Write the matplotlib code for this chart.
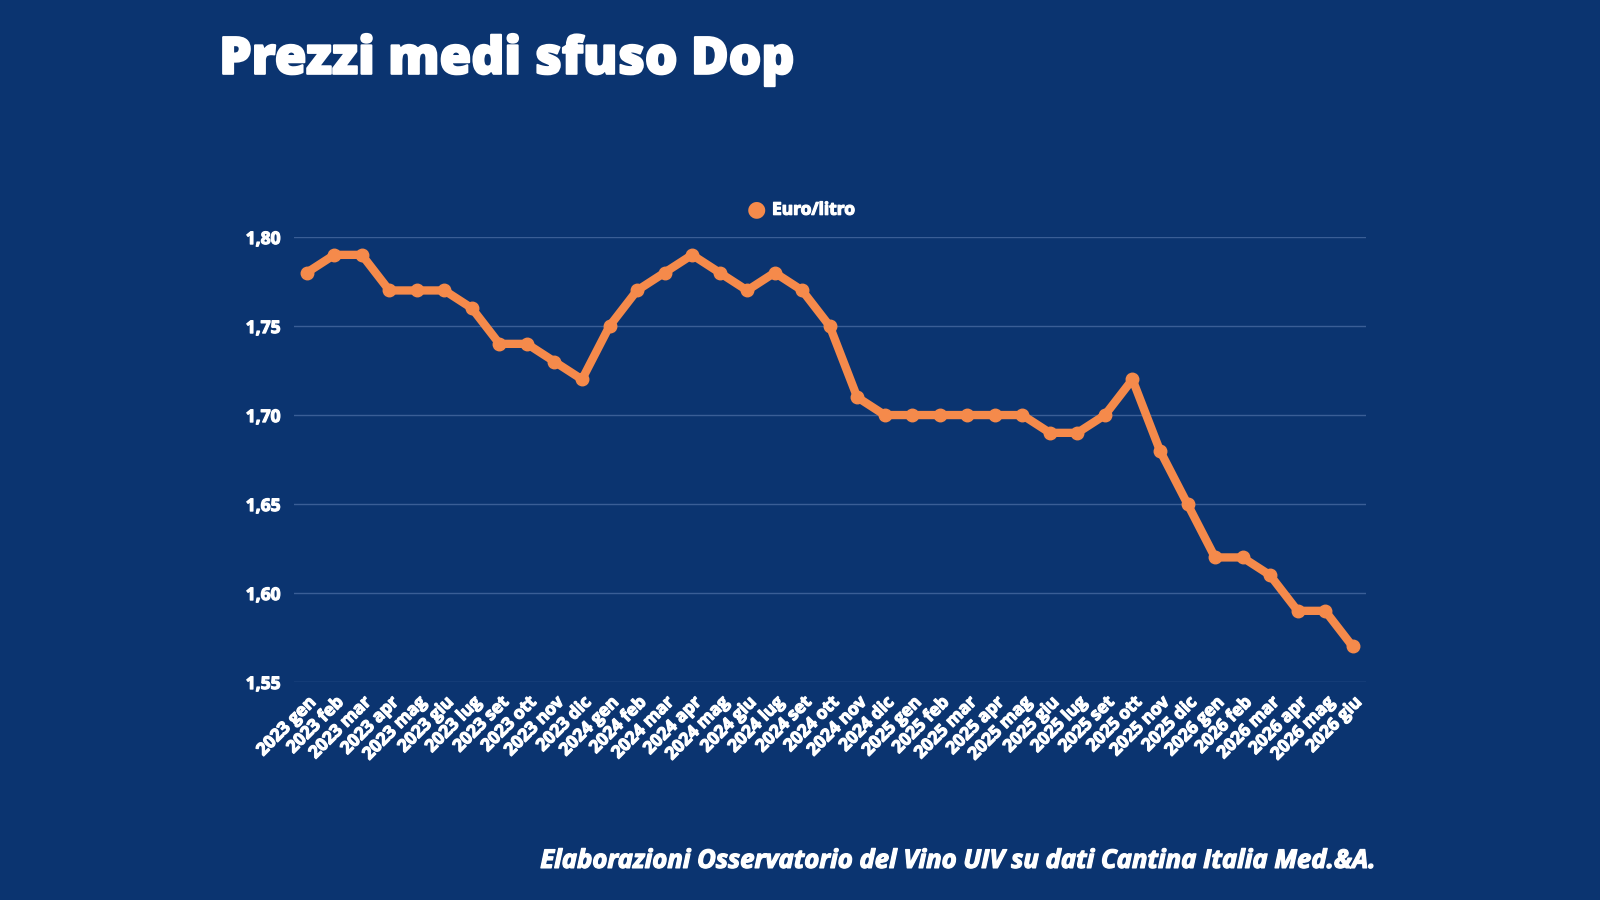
import matplotlib.pyplot as plt
import matplotlib.patheffects as pe
import numpy as np

# dati: prezzi medi sfuso Dop (euro/litro)
mesi = ["2023 gen", "2023 feb", "2023 mar", "2023 apr", "2023 mag", "2023 giu",
        "2023 lug", "2023 set", "2023 ott", "2023 nov", "2023 dic",
        "2024 gen", "2024 feb", "2024 mar", "2024 apr", "2024 mag", "2024 giu",
        "2024 lug", "2024 set", "2024 ott", "2024 nov", "2024 dic",
        "2025 gen", "2025 feb", "2025 mar", "2025 apr", "2025 mag", "2025 giu",
        "2025 lug", "2025 set", "2025 ott", "2025 nov", "2025 dic",
        "2026 gen", "2026 feb", "2026 mar", "2026 apr", "2026 mag", "2026 giu"]
prezzi = [1.78, 1.79, 1.79, 1.77, 1.77, 1.77, 1.76, 1.74, 1.74, 1.73, 1.72,
          1.75, 1.77, 1.78, 1.79, 1.78, 1.77, 1.78, 1.77, 1.75, 1.71, 1.70,
          1.70, 1.70, 1.70, 1.70, 1.70, 1.69, 1.69, 1.70, 1.72, 1.68, 1.65,
          1.62, 1.62, 1.61, 1.59, 1.59, 1.57]
yticks = [1.55, 1.60, 1.65, 1.70, 1.75, 1.80]

BG = "#0b3470"
ARANCIO = "#f58a4b"
GRIGLIA = "#3a5e96"

plt.rcParams['font.family'] = ['Open Sans', 'DejaVu Sans']

# testo un po' piu' "pieno", come nell'originale
spesso = [pe.withStroke(linewidth=0.9, foreground='white')]

fig = plt.figure(figsize=(16, 9), dpi=100, facecolor=BG)
ax = fig.add_axes([0.184, 0.2422, 0.670, 0.4944], facecolor=BG)

x = np.arange(len(mesi))
ax.plot(x, prezzi, color=ARANCIO, linewidth=6, solid_joinstyle='round',
        solid_capstyle='round', marker='o', markersize=9, zorder=3)

ax.set_xlim(-0.45, len(mesi) - 0.5)
ax.set_ylim(1.55, 1.80)
ax.set_yticks(yticks)
ax.set_yticklabels([f"{v:.2f}".replace(".", ",") for v in yticks])
ax.set_xticks(x)
ax.set_xticklabels(mesi, rotation=45, ha='right', rotation_mode='anchor')

ax.grid(axis='y', color=GRIGLIA, linewidth=1)
ax.set_axisbelow(True)
for s in ax.spines.values():
    s.set_visible(False)
ax.tick_params(length=0, colors='white', labelsize=12.5)
ax.tick_params(axis='y', pad=10)
ax.tick_params(axis='x', pad=8)
for lab in ax.get_xticklabels() + ax.get_yticklabels():
    lab.set_fontweight('bold')
    lab.set_path_effects(spesso)

# legenda
fig.text(0.4725, 0.767, "●", color=ARANCIO, fontsize=16, ha='center', va='center')
fig.text(0.4825, 0.767, "Euro/litro", color='white', fontsize=12.5,
         fontweight='bold', ha='left', va='center', path_effects=spesso)

fig.text(0.137, 0.918, "Prezzi medi sfuso Dop", color='white', fontsize=37,
         fontweight='heavy', ha='left', va='baseline',
         path_effects=[pe.withStroke(linewidth=1.5, foreground='white')])
fig.text(0.861, 0.044, "Elaborazioni Osservatorio del Vino UIV su dati Cantina Italia Med.&A.",
         color='white', fontsize=18.5, fontweight='bold', fontstyle='italic',
         ha='right', va='center', path_effects=spesso)

fig.savefig("out.png", dpi=100, facecolor=BG)
